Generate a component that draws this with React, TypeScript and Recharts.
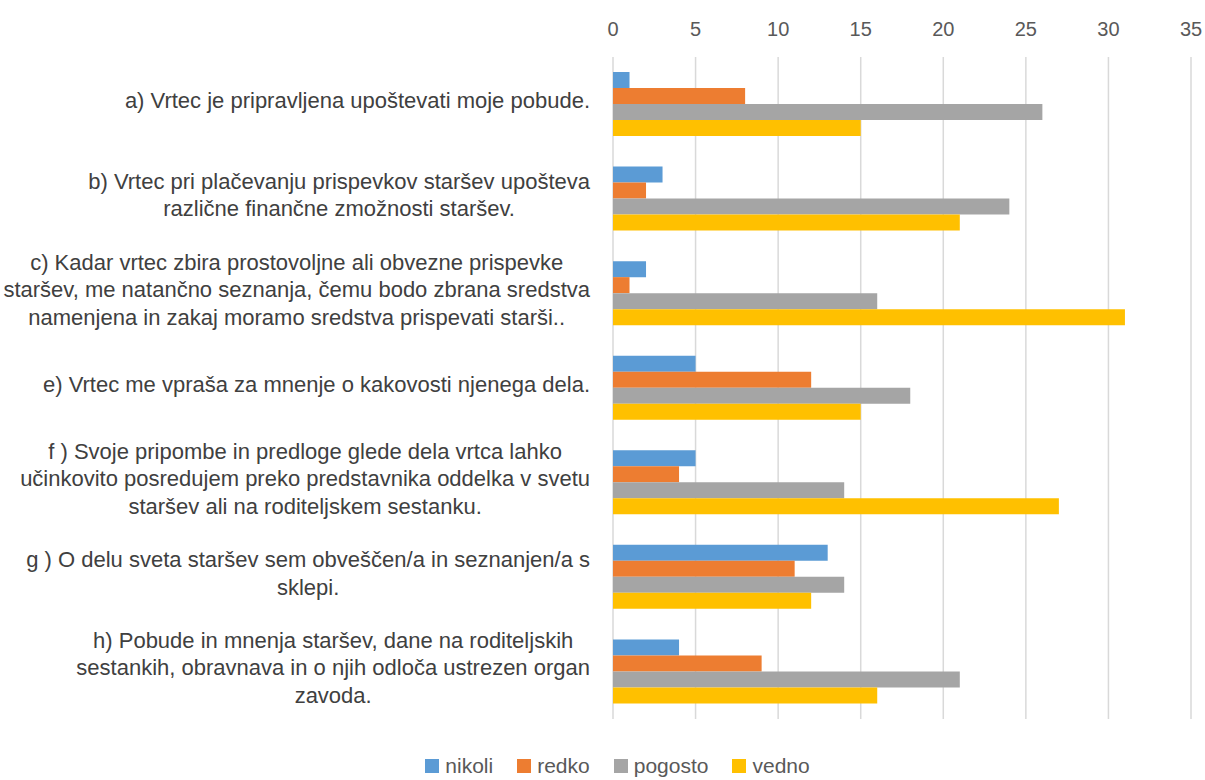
import React from "react";
import { BarChart, Bar, XAxis, YAxis, CartesianGrid, Legend } from "recharts";

const categories = [
  "a) Vrtec je pripravljena upoštevati moje pobude.",
  "b) Vrtec pri plačevanju prispevkov staršev upošteva\nrazlične finančne zmožnosti staršev.",
  "c) Kadar vrtec zbira prostovoljne ali obvezne prispevke\nstaršev, me natančno seznanja, čemu bodo zbrana sredstva\nnamenjena in zakaj moramo sredstva prispevati starši..",
  "e) Vrtec me vpraša za mnenje o kakovosti njenega dela.",
  "f ) Svoje pripombe in predloge glede dela vrtca lahko\nučinkovito posredujem preko predstavnika oddelka v svetu\nstaršev ali na roditeljskem sestanku.",
  "g ) O delu sveta staršev sem obveščen/a in seznanjen/a s\nsklepi.",
  "h) Pobude in mnenja staršev, dane na roditeljskih\nsestankih, obravnava in o njih odloča ustrezen organ\nzavoda.",
];

const nikoli = [1, 3, 2, 5, 5, 13, 4];
const redko = [8, 2, 1, 12, 4, 11, 9];
const pogosto = [26, 24, 16, 18, 14, 14, 21];
const vedno = [15, 21, 31, 15, 27, 12, 16];

const xTicks = [0, 5, 10, 15, 20, 25, 30, 35];

const series = [
  { key: "nikoli", color: "#5B9BD5" },
  { key: "redko", color: "#ED7D31" },
  { key: "pogosto", color: "#A5A5A5" },
  { key: "vedno", color: "#FFC000" },
];

const data = categories.map((name, i) => ({
  name,
  nikoli: nikoli[i],
  redko: redko[i],
  pogosto: pogosto[i],
  vedno: vedno[i],
}));

const FONT = "'Liberation Sans', Arial, sans-serif";
const LABEL_SIZE = 22;

let ctx: CanvasRenderingContext2D | null = null;
function measure(text: string) {
  if (!ctx) {
    const c = document.createElement("canvas");
    ctx = c.getContext("2d");
  }
  if (!ctx) return text.length * 10;
  ctx.font = `${LABEL_SIZE}px ${FONT}`;
  return ctx.measureText(text).width;
}

function CategoryTick(props: any) {
  const { x, y, payload } = props;
  const lines: string[] = String(payload.value).split("\n");
  const maxW = Math.max(...lines.map(measure));
  const cx = x - maxW / 2;
  const lh = 27.5;
  const startY = y - ((lines.length - 1) * lh) / 2 - 4;
  return (
    <text
      textAnchor="middle"
      fill="#404040"
      fontSize={LABEL_SIZE}
      fontFamily={FONT}
    >
      {lines.map((l, i) => (
        <tspan key={i} x={cx} y={startY + i * lh} dy="0.35em">
          {l}
        </tspan>
      ))}
    </text>
  );
}

function LegendBox() {
  return (
    <div
      style={{
        height: 61,
        display: "flex",
        justifyContent: "center",
        alignItems: "flex-end",
        paddingBottom: 2,
        paddingLeft: 44,
        boxSizing: "border-box",
        fontFamily: FONT,
        fontSize: 21,
        color: "#595959",
        gap: 24,
      }}
    >
      {series.map((s) => (
        <div key={s.key} style={{ display: "flex", alignItems: "center", gap: 6 }}>
          <span style={{ width: 14, height: 14, background: s.color, display: "inline-block" }} />
          <span>{s.key}</span>
        </div>
      ))}
    </div>
  );
}

export default function App() {
  return (
    <div style={{ position: "absolute", left: 0, top: 0, background: "#fff" }}>
      <BarChart
        width={1205}
        height={780}
        data={data}
        layout="vertical"
        margin={{ top: 0, right: 14, bottom: 0, left: 0 }}
        barGap={0}
        barSize={16}
      >
        <CartesianGrid horizontal={false} stroke="#d9d9d9" strokeWidth={1.5} />
        <XAxis
          type="number"
          orientation="top"
          domain={[0, 35]}
          ticks={xTicks}
          axisLine={false}
          tickLine={false}
          height={57}
          tickMargin={15}
          tick={{ fill: "#595959", fontSize: 20, fontFamily: FONT }}
        />
        <YAxis
          type="category"
          dataKey="name"
          width={613}
          axisLine={false}
          tickLine={false}
          tickSize={0}
          tickMargin={23}
          interval={0}
          tick={<CategoryTick />}
        />
        <Legend verticalAlign="bottom" content={<LegendBox />} />
        {series.map((s) => (
          <Bar key={s.key} dataKey={s.key} fill={s.color} isAnimationActive={false} />
        ))}
      </BarChart>
    </div>
  );
}
